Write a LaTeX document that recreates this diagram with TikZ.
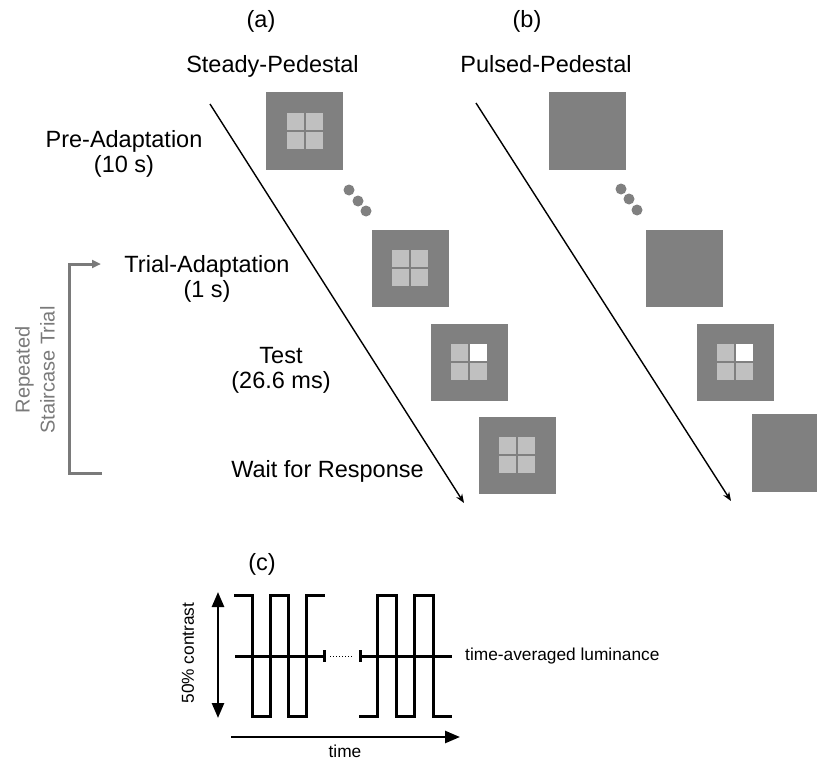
\documentclass[tikz,border=0pt]{standalone}
\usepackage{fontspec}
\setmainfont{Liberation Sans}
\usetikzlibrary{arrows.meta}
\definecolor{sqgray}{HTML}{808080}
\definecolor{lightsq}{HTML}{C0C0C0}
\definecolor{brgray}{HTML}{7A7A7A}
\tikzset{
  bigsq/.style={fill=sqgray, draw=none, minimum size=77pt, inner sep=0pt, outer sep=0pt},
  quad/.pic={
    \fill[lightsq] (-18,-18) rectangle (-1,-1);
    \fill[lightsq] (1,-18) rectangle (18,-1);
    \fill[lightsq] (-18,1) rectangle (-1,18);
    \fill[lightsq] (1,1) rectangle (18,18);
  },
  testquad/.pic={
    \fill[lightsq] (-18,-18) rectangle (-1,-1);
    \fill[white] (1,-18) rectangle (18,-1);
    \fill[lightsq] (-18,1) rectangle (-1,18);
    \fill[lightsq] (1,1) rectangle (18,18);
  },
  lbl/.style={font=\fontsize{23.5}{24.5}\selectfont, inner sep=0pt, anchor=base, align=center},
  small/.style={font=\fontsize{17.3}{19}\selectfont, inner sep=0pt},
  timeline/.style={line width=1.4pt, -{Stealth[length=9pt,width=7pt]}},
  dotc/.style={fill=sqgray},
  wave/.style={line width=3pt},
  bracket/.style={draw=brgray, line width=3pt},
}
\begin{document}
\begin{tikzpicture}[x=1pt,y=-1pt]
\useasboundingbox (0,0) rectangle (817,760);
% headings
\node[lbl] (la) at (261,28) {(a)};
\node[lbl] (lb) at (527,28) {(b)};
\node[lbl] (hs) at (272.5,73) {Steady-Pedestal};
\node[lbl] (hp) at (546,73) {Pulsed-Pedestal};
% phase labels (base anchor = last line baseline)
\node[lbl] (pre) at (124,172) {Pre-Adaptation\\(10 s)};
\node[lbl] (tri) at (207,297) {Trial-Adaptation\\(1 s)};
\node[lbl] (tst) at (281,388) {Test\\(26.6 ms)};
\node[lbl] (wfr) at (327.5,477) {Wait for Response};
% timelines
\coordinate (sa) at (210,104);
\coordinate (ea) at (464,503);
\coordinate (sb) at (476,103);
\coordinate (eb) at (731,501);
\draw[timeline] (sa) -- (ea);
\draw[timeline] (sb) -- (eb);
% steady pedestal squares
\node[bigsq] (a1) at (304.5,131) {};
\pic at (a1) {quad};
\node[bigsq] (a2) at (410,268) {};
\pic at (a2) {quad};
\node[bigsq] (a3) at (469,362) {};
\pic at (a3) {testquad};
\node[bigsq] (a4) at (517,455) {};
\pic at (a4) {quad};
% pulsed pedestal squares
\node[bigsq] (b1) at (587,131) {};
\node[bigsq] (b2) at (684,268) {};
\node[bigsq] (b3) at (735,362) {};
\pic at (b3) {testquad};
\fill[sqgray] (752,414) rectangle (817,492);
% ellipsis dots
\fill[dotc] (349,190) circle (5.5);
\fill[dotc] (358,201) circle (5.5);
\fill[dotc] (366,211) circle (5.5);
\fill[dotc] (621,189) circle (5.5);
\fill[dotc] (629,199) circle (5.5);
\fill[dotc] (637,210) circle (5.5);
% repeated staircase bracket
\coordinate (bt) at (69,264);
\coordinate (btend) at (101,264);
\coordinate (bb) at (69,473);
\coordinate (bbend) at (102,473);
\draw[bracket, -{Triangle[length=9pt,width=8pt]}] (bbend) -- (bb) -- (bt) -- (btend);
\node[inner sep=0pt, align=center, font=\fontsize{20}{25}\selectfont, rotate=90, text=brgray] (rst) at (35,370) {Repeated\\Staircase Trial};
% (c)
\node[lbl] (lc) at (262,570) {(c)};
\coordinate (ct) at (218,592);
\coordinate (cb) at (218,718);
\draw[line width=2.5pt, {Triangle[length=15pt,width=12pt]}-{Triangle[length=15pt,width=12pt]}] (ct) -- (cb);
\node[small, rotate=90] (con) at (188,653) {50\% contrast};
\draw[wave] (234,595) -- (252,595) -- (252,716) -- (270,716) -- (270,595) -- (288,595) -- (288,716) -- (306,716) -- (306,595) -- (325,595);
\draw[wave] (359,716) -- (377,716) -- (377,595) -- (396,595) -- (396,716) -- (414,716) -- (414,595) -- (433,595) -- (433,716) -- (452,716);
\coordinate (m1) at (235,656);
\coordinate (m2) at (324,656);
\coordinate (m3) at (360,656);
\coordinate (m4) at (452,656);
\draw[wave] (m1) -- (m2);
\draw[wave] (324,650) -- (324,662);
\draw[wave] (360,650) -- (360,662);
\draw[wave] (m3) -- (m4);
\draw[line width=1pt, dotted] (330,656) -- (352,656);
\node[small, anchor=west] (tal) at (465,656) {time-averaged luminance};
\coordinate (ts) at (231,737);
\coordinate (te) at (460,737);
\draw[line width=2.5pt, -{Triangle[length=15pt,width=12pt]}] (ts) -- (te);
\node[small, anchor=base] (tim) at (345,757) {time};
\end{tikzpicture}
\end{document}
